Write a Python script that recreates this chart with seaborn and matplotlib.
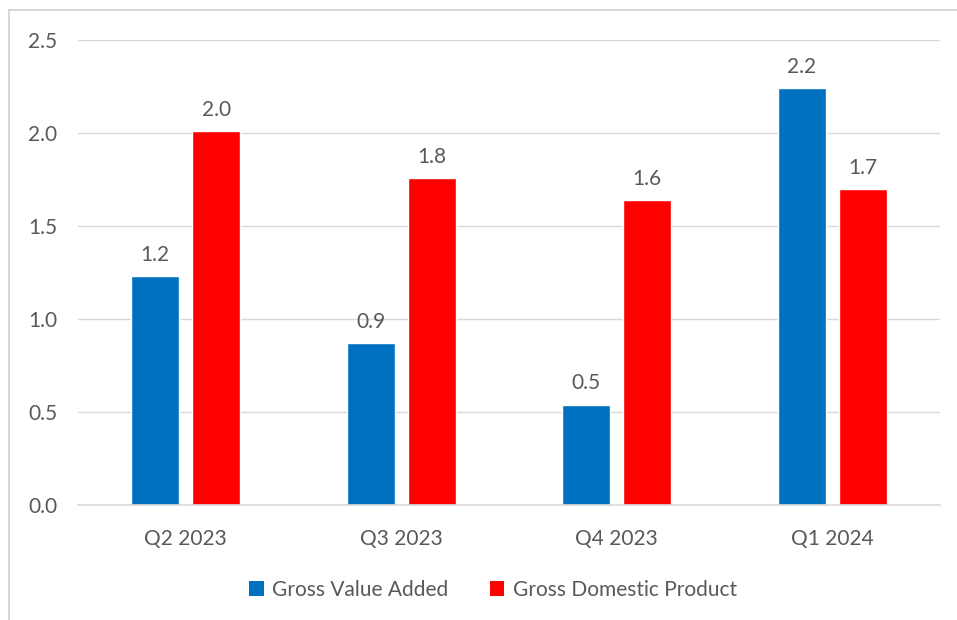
import matplotlib
matplotlib.use("Agg")
import matplotlib.pyplot as plt
import seaborn as sns
import pandas as pd
from matplotlib.lines import Line2D
from matplotlib.patches import Patch

categories = ["Q2 2023", "Q3 2023", "Q4 2023", "Q1 2024"]
series_names = ["Gross Value Added", "Gross Domestic Product"]
gva = [1.23, 0.87, 0.54, 2.24]
gdp = [2.01, 1.76, 1.64, 1.70]
yticks = [0.0, 0.5, 1.0, 1.5, 2.0, 2.5]
colors = ["#0070C0", "#FF0000"]

df = pd.DataFrame({
    "quarter": categories * 2,
    "series": [series_names[0]] * 4 + [series_names[1]] * 4,
    "value": gva + gdp,
})

sns.set_theme(style="white")
plt.rcParams["font.family"] = ["Lato", "DejaVu Sans"]
text_color = "#595959"
fs = 15

fig = plt.figure(figsize=(9.57, 6.2), dpi=100)
ax = fig.add_axes([78/957, 115/620, (940-78)/957, (505-40)/620])

sns.barplot(data=df, x="quarter", y="value", hue="series", order=categories,
            hue_order=series_names, palette=colors, width=0.565, gap=0.213,
            saturation=1, ax=ax, legend=False)

for c in ax.containers:
    ax.bar_label(c, fmt="%.1f", padding=8, fontsize=fs, color=text_color)

ax.set_ylim(0, 2.5)
ax.set_xlim(-0.5, 3.5)
ax.set_yticks(yticks)
ax.set_yticklabels([f"{v:.1f}" for v in yticks])
ax.yaxis.grid(True, color="#D9D9D9", linewidth=1)
ax.set_axisbelow(True)
for s in ["top", "right", "left"]:
    ax.spines[s].set_visible(False)
ax.spines["bottom"].set_color("#D9D9D9")
ax.spines["bottom"].set_linewidth(1.2)
ax.tick_params(axis="both", length=0, labelsize=fs, labelcolor=text_color)
ax.tick_params(axis="y", pad=15)
ax.tick_params(axis="x", pad=17)
ax.set_xlabel("")
ax.set_ylabel("")

handles = [Patch(facecolor=colors[i], edgecolor="none", label=series_names[i]) for i in range(2)]
leg = fig.legend(handles=handles, loc="center", bbox_to_anchor=(493/957, 1 - 590/620),
                 ncol=2, frameon=False, fontsize=fs, handlelength=0.7, handleheight=0.7,
                 handletextpad=0.4, columnspacing=2.0)
for t in leg.get_texts():
    t.set_color(text_color)

# outer frame (left and top edges)
fig.add_artist(Line2D([9/957, 9/957], [0, 1 - 10/620], transform=fig.transFigure, color="#D0D0D0", lw=1.2))
fig.add_artist(Line2D([9/957, 1], [1 - 10/620, 1 - 10/620], transform=fig.transFigure, color="#D0D0D0", lw=1.2))

fig.savefig("out.png", dpi=100)
